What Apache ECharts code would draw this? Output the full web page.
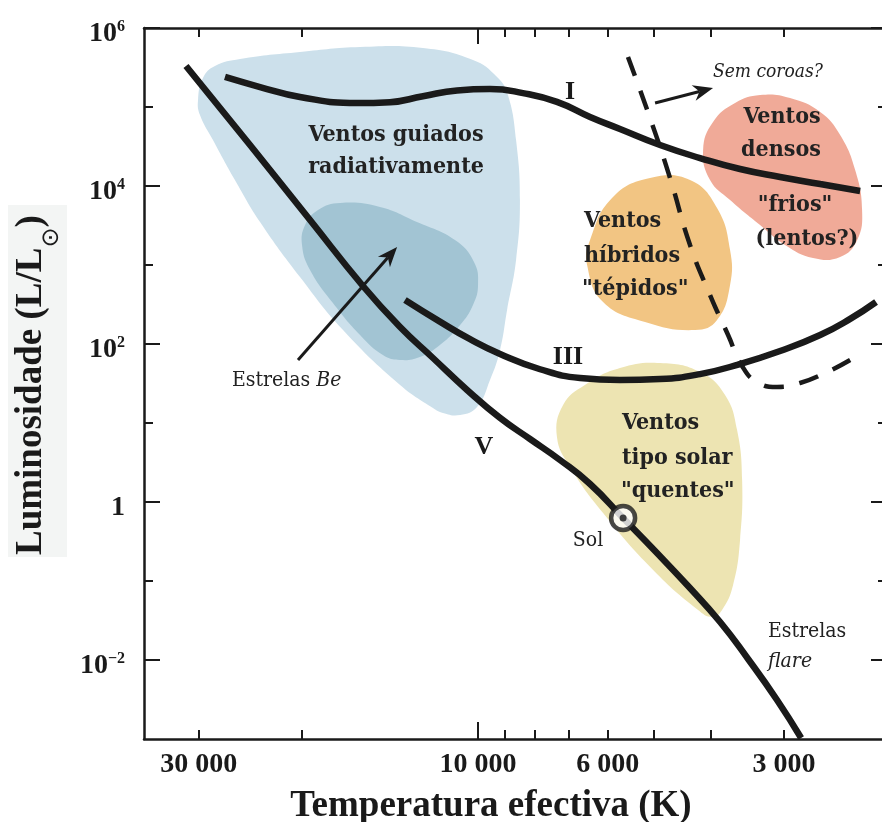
<!DOCTYPE html>
<html>
<head>
<meta charset="utf-8">
<script src="https://cdn.jsdelivr.net/npm/echarts@6/dist/echarts.min.js"></script>
<style>
  html, body { margin: 0; padding: 0; background: #fff; overflow: hidden; }
  #chart { width: 896px; height: 822px; }
</style>
</head>
<body>
<div id="chart"></div>
<script>
// ---- Data: [effective temperature (K), luminosity (L/Lsun)] ----
const sunPoint = [5650, 0.627];
const classV = [[31560, 3.30e5], [24530, 3.30e4], [19370, 3712], [15730, 542], [13590, 164],
  [11940, 66.5], [10440, 26.2], [9170, 11.6], [8150, 6.27], [7244, 3.40], [6435, 1.69], sunPoint,
  [4982, 0.240], [4375, 0.0864], [3857, 0.0303], [3455, 0.0103], [3083, 0.00312], [2804, 0.00103]];
const classI = [[27070, 2.40e5], [23580, 1.79e5], [20150, 1.34e5], [16100, 1.12e5], [14140, 1.15e5],
  [12420, 1.37e5], [10860, 1.62e5], [9540, 1.69e5], [8380, 1.50e5], [7330, 1.16e5], [6435, 7.47e4],
  [5720, 5.27e4], [4886, 3.30e4], [4174, 2.26e4], [3566, 1.64e4], [3046, 1.30e4], [2602, 1.06e4], [2223, 8640]];
const classIII = [[13330, 361], [11620, 192], [10320, 115], [9170, 74.7], [7834, 47.9], [6693, 37.1],
  [5720, 35.0], [4886, 36.0], [4174, 41.6], [3566, 55.8], [3046, 81.5], [2602, 130], [2312, 208], [2088, 340]];
const coronaLine = [[5543, 4.30e5], [5082, 7.26e4], [4697, 1.26e4], [4342, 1792], [4013, 417], [3738, 130],
  [3537, 52.7], [3334, 33.0], [3083, 28.6], [2816, 32.1], [2551, 42.9], [2312, 62.7]];

// Wind regimes (closed outlines)
const radiativeWinds = [[30100, 1.23e5], [29520, 2.33e5], [28160, 3.30e5], [25510, 4.05e5], [20150, 4.97e5],
  [15910, 5.75e5], [12420, 5.58e5], [10200, 3.94e5], [9280, 2.40e5], [8890, 1.42e5], [8610, 3.82e4],
  [8480, 6650], [8610, 1157], [8920, 269], [9170, 84], [9540, 35], [10040, 15.9], [10730, 12.6],
  [11480, 13.4], [11940, 15.5], [13590, 30.3], [17010, 150], [20150, 705], [23580, 3503], [26030, 1.19e4],
  [28380, 3.82e4], [29870, 7.92e4]];
const beStars = [[19990, 1792], [19750, 3209], [18770, 4969], [17210, 6100], [14710, 5424], [12720, 3503],
  [10950, 2072], [10160, 1092], [10000, 558], [10200, 312], [10730, 174], [11620, 97], [12570, 68.5],
  [13590, 62.7], [14540, 72.6], [15910, 130], [17700, 330], [19370, 864]];
const hybridWinds = [[6435, 2072], [5902, 7049], [5082, 1.263e4], [4342, 1.191e4], [3904, 5266], [3709, 1548],
  [3709, 558], [3904, 201], [4257, 150], [5183, 190], [6113, 340], [6510, 1000]];
const coolWinds = [[4124, 2.856e4], [3966, 6.46e4], [3637, 1.124e5], [3296, 1.419e5], [2929, 1.30e5],
  [2602, 8.64e4], [2405, 4.42e4], [2267, 1.594e4], [2206, 4969], [2249, 2072], [2405, 1263], [2676, 1226],
  [2987, 1792], [3296, 3209], [3709, 6650], [4013, 1.191e4]];
const solarWinds = [[7330, 6.65], [7155, 16.9], [6566, 30.3], [5720, 49.7], [4886, 57.5], [4174, 44.2],
  [3783, 22.6], [3608, 8.15], [3537, 1.90], [3566, 0.330], [3665, 0.089], [3828, 0.0429], [3981, 0.035],
  [4206, 0.0429], [5020, 0.138], [6113, 0.726], [6960, 2.77]];

// Annotation arrows: [T0, L0, T1, L1]
const arrows = [[20310, 62.7, 13750, 1690], [4982, 1.124e5, 3966, 1.74e5]];

// ---- Axis ticks ----
const tempRange = [2000, 37230];
const lumRange = [1e-3, 1e6];
const tempTicks = [30000, 20000, 10000, 9000, 8000, 7000, 6000, 5000, 4000, 3000];
const tempMajorTicks = [10000];
const tempLabels = [30000, 10000, 6000, 3000];
const lumTicks = [1e-2, 1e-1, 1, 1e1, 1e2, 1e3, 1e4, 1e5, 1e6];
const lumMajorTicks = [1e-2, 1, 1e2, 1e4, 1e6];
const lumLabels = [1e-2, 1, 1e2, 1e4, 1e6];

const INK = '#1a1a1a';
const TIMES = '"Liberation Serif", "Times New Roman", serif';
const SLAB = '"DejaVu Serif Condensed", "DejaVu Serif", serif';
const AXIS_W = 2.5;

function tempAxis(grid, position, ticks, len, withLine, labels) {
  return {
    type: 'log', logBase: 10, inverse: true, gridIndex: grid, position,
    min: tempRange[0], max: tempRange[1],
    axisLine: { show: withLine, lineStyle: { color: INK, width: AXIS_W } },
    axisTick: { show: true, inside: true, length: len, customValues: ticks, lineStyle: { color: INK, width: 2 } },
    axisLabel: labels ? {
      show: true, customValues: labels, margin: 12, color: INK,
      fontFamily: TIMES, fontWeight: 'bold', fontSize: 28,
      formatter: v => String(Math.round(v)).replace(/\B(?=(\d{3})+(?!\d))/g, ' ')
    } : { show: false },
    splitLine: { show: false }, minorTick: { show: false }
  };
}

function lumAxis(grid, position, ticks, len, withLine, labels) {
  return {
    type: 'log', logBase: 10, gridIndex: grid, position,
    min: lumRange[0], max: lumRange[1],
    axisLine: { show: withLine, lineStyle: { color: INK, width: AXIS_W } },
    axisTick: { show: true, inside: true, length: len, customValues: ticks, lineStyle: { color: INK, width: 2 } },
    axisLabel: labels ? {
      show: true, customValues: labels, margin: 19, color: INK, padding: [12, 0, 0, 0],
      formatter: v => {
        const e = Math.round(Math.log10(v));
        if (e === 0) return '{b|1}';
        return '{b|10}{s|' + (e < 0 ? '\u2212' + (-e) : e) + '}';
      },
      rich: {
        b: { fontFamily: TIMES, fontWeight: 'bold', fontSize: 28, color: INK, lineHeight: 30 },
        s: { fontFamily: TIMES, fontWeight: 'bold', fontSize: 16, color: INK, lineHeight: 16, verticalAlign: 'top' }
      }
    } : { show: false },
    splitLine: { show: false }, minorTick: { show: false }
  };
}

function regionSeries(name, pts, fill) {
  return {
    type: 'custom', name, coordinateSystem: 'cartesian2d', xAxisIndex: 0, yAxisIndex: 0,
    data: pts, z: 1, silent: true,
    renderItem(params, api) {
      if (params.dataIndex !== 0) return null;
      return { type: 'polygon', shape: { points: pts.map(p => api.coord(p)), smooth: 0.45 }, style: { fill } };
    }
  };
}

function curveSeries(name, data, width, type) {
  return {
    type: 'line', name, data, xAxisIndex: 0, yAxisIndex: 0, smooth: 0.5, symbol: 'none', z: 5,
    silent: true, lineStyle: { color: INK, width, type: type || 'solid' }
  };
}

function txt(x, y, text, font, opts) {
  return {
    type: 'text', x, y, z: 100, silent: true,
    style: Object.assign({ text, font, fill: '#222', align: 'left', verticalAlign: 'middle' }, opts || {})
  };
}

const boldSlab = 'bold 23px ' + SLAB;
const slab = '21px ' + SLAB;
const slabItalic = 'italic 21px ' + SLAB;
const classFont = 'bold 26px ' + TIMES;

// Luminosity axis title, drawn rotated with the solar symbol as subscript
const measure = document.createElement('canvas').getContext('2d');
const yTitleFont = 'bold 37px ' + TIMES;
const sunFont = '24px "DejaVu Sans"';
measure.font = yTitleFont;
const yTitleMain = 'Luminosidade (L/L';
const yMainW = measure.measureText(yTitleMain).width;
measure.font = sunFont;
const sunW = measure.measureText('\u2299').width;
const yTitleStart = -174;

const chart = echarts.init(document.getElementById('chart'));
chart.setOption({
  animation: false,
  backgroundColor: '#fff',
  grid: [
    { left: 144, top: 28, width: 743, height: 711 },
    { left: 144, top: 28, width: 743, height: 711 }
  ],
  xAxis: [
    tempAxis(0, 'bottom', tempTicks, 9, true, tempLabels),
    tempAxis(0, 'top', tempTicks, 9, true, null),
    tempAxis(1, 'bottom', tempMajorTicks, 17, false, null),
    tempAxis(1, 'top', tempMajorTicks, 16, false, null)
  ],
  yAxis: [
    lumAxis(0, 'left', lumTicks, 9, true, lumLabels),
    lumAxis(0, 'right', lumTicks, 9, true, null),
    lumAxis(1, 'left', lumMajorTicks, 16, false, null),
    lumAxis(1, 'right', lumMajorTicks, 16, false, null)
  ],
  series: [
    regionSeries('Ventos guiados radiativamente', radiativeWinds, '#cce0eb'),
    regionSeries('Estrelas Be', beStars, '#a2c4d3'),
    regionSeries('Ventos híbridos', hybridWinds, '#f2c583'),
    regionSeries('Ventos densos frios', coolWinds, '#f0aa98'),
    regionSeries('Ventos tipo solar', solarWinds, '#ede4b2'),
    curveSeries('I', classI, 6.5),
    curveSeries('III', classIII, 6.5),
    curveSeries('V', classV, 6.5),
    curveSeries('Sem coroas', coronaLine, 4.5, [20, 16]),
    {
      type: 'custom', name: 'setas', coordinateSystem: 'cartesian2d', xAxisIndex: 0, yAxisIndex: 0,
      data: arrows, encode: { x: [0, 2], y: [1, 3] }, z: 8, silent: true,
      renderItem(params, api) {
        const a = api.coord([api.value(0), api.value(1)]);
        const b = api.coord([api.value(2), api.value(3)]);
        const dx = b[0] - a[0], dy = b[1] - a[1];
        const len = Math.hypot(dx, dy), ux = dx / len, uy = dy / len;
        const hl = 20, hw = 8, notch = 14;
        const base = [b[0] - ux * hl, b[1] - uy * hl];
        const mid = [b[0] - ux * notch, b[1] - uy * notch];
        const left = [base[0] - uy * hw, base[1] + ux * hw];
        const right = [base[0] + uy * hw, base[1] - ux * hw];
        return {
          type: 'group', children: [
            { type: 'line', shape: { x1: a[0], y1: a[1], x2: mid[0], y2: mid[1] }, style: { stroke: INK, lineWidth: 3 } },
            { type: 'polygon', shape: { points: [b, left, mid, right] }, style: { fill: INK } }
          ]
        };
      }
    },
    {
      type: 'scatter', name: 'Sol', data: [sunPoint], xAxisIndex: 0, yAxisIndex: 0, z: 10, silent: true,
      symbol: 'circle', symbolSize: 24, itemStyle: { color: '#fff', borderColor: INK, borderWidth: 4.5 }
    },
    {
      type: 'scatter', data: [sunPoint], xAxisIndex: 0, yAxisIndex: 0, z: 11, silent: true,
      symbol: 'circle', symbolSize: 7, itemStyle: { color: INK }
    }
  ],
  graphic: [
    // axis titles
    txt(491, 806, 'Temperatura efectiva (K)', 'bold 37px ' + TIMES, { align: 'center', fill: INK }),
    {
      type: 'group', x: 37.5, y: 381, rotation: Math.PI / 2, z: 100, silent: true,
      children: [
        { type: 'rect', shape: { x: -176, y: -29.5, width: 352, height: 59 }, style: { fill: '#f3f5f4' } },
        { type: 'text', x: yTitleStart, y: -6, style: { text: yTitleMain, font: yTitleFont, fill: INK, verticalAlign: 'middle' } },
        { type: 'text', x: yTitleStart + yMainW, y: 14, style: { text: '\u2299', font: sunFont, fill: INK, verticalAlign: 'middle' } },
        { type: 'text', x: yTitleStart + yMainW + sunW, y: -6, style: { text: ')', font: yTitleFont, fill: INK, verticalAlign: 'middle' } }
      ]
    },
    // wind regime names
    txt(396, 135, 'Ventos guiados', boldSlab, { align: 'center' }),
    txt(396, 167, 'radiativamente', boldSlab, { align: 'center' }),
    txt(584, 221, 'Ventos', boldSlab),
    txt(584, 256, 'híbridos', boldSlab),
    txt(582, 289, '"tépidos"', boldSlab),
    txt(622, 423, 'Ventos', boldSlab),
    txt(622, 458, 'tipo solar', boldSlab),
    txt(621, 491, '"quentes"', boldSlab),
    txt(782, 117, 'Ventos', boldSlab, { align: 'center' }),
    txt(781, 150, 'densos', boldSlab, { align: 'center' }),
    txt(795, 205, '"frios"', boldSlab, { align: 'center' }),
    txt(807, 239, '(lentos?)', boldSlab, { align: 'center' }),
    // luminosity classes
    txt(570, 92, 'I', classFont, { align: 'center', fill: INK }),
    txt(568, 357, 'III', classFont, { align: 'center', fill: INK }),
    txt(484, 447, 'V', classFont, { align: 'center', fill: INK }),
    // notes
    txt(588, 541, 'Sol', slab, { align: 'center' }),
    {
      type: 'text', x: 232, y: 381, z: 100, silent: true,
      style: {
        text: '{n|Estrelas }{i|Be}', verticalAlign: 'middle', align: 'left',
        rich: { n: { font: slab, fill: '#222' }, i: { font: slabItalic, fill: '#222' } }
      }
    },
    txt(768, 632, 'Estrelas', slab),
    txt(768, 662, 'flare', slabItalic),
    txt(713, 72, 'Sem coroas?', 'italic 19px ' + SLAB)
  ]
});
</script>
</body>
</html>
